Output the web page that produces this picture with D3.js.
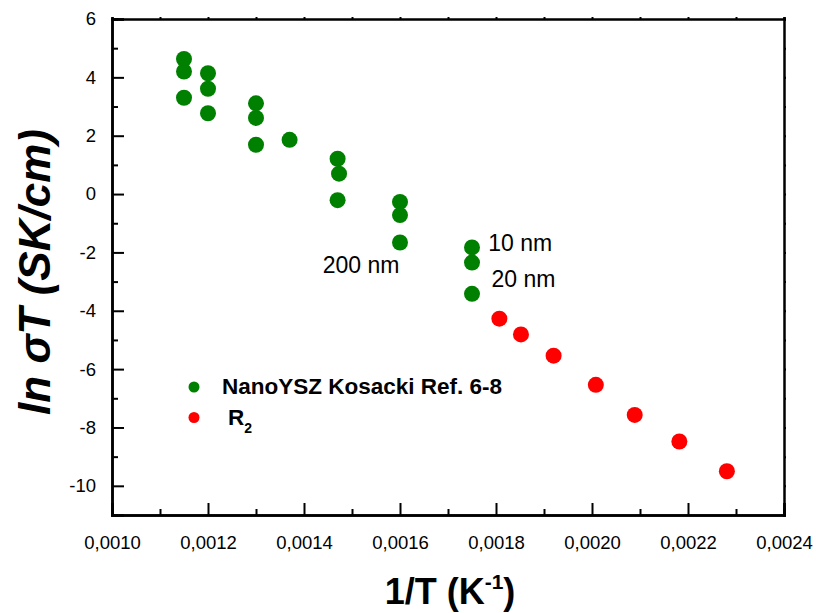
<!DOCTYPE html>
<html>
<head>
<meta charset="utf-8">
<script src="https://cdn.jsdelivr.net/npm/d3@7"></script>
<style>
  html, body { margin: 0; padding: 0; background: #fff; }
  svg { display: block; font-family: Arial, "Liberation Sans", sans-serif; }
</style>
</head>
<body>
<svg id="chart" width="816" height="613"></svg>
<script>
// Nano-YSZ conductivity (Kosacki, refs 6-8) versus this work (R2)
const nanoX = [0.00115, 0.00115, 0.00115, 0.0012, 0.0012, 0.0012, 0.0013, 0.0013, 0.0013,
               0.00137, 0.00147, 0.001473, 0.00147, 0.0016, 0.0016, 0.0016, 0.00175, 0.00175, 0.00175];
const nanoY = [4.63, 4.20, 3.30, 4.14, 3.61, 2.77, 3.11, 2.61, 1.69,
               1.86, 1.21, 0.70, -0.21, -0.27, -0.72, -1.66, -1.83, -2.35, -3.42];

const r2X = [0.001807, 0.001852, 0.00192, 0.002008, 0.002089, 0.002182, 0.002281];
const r2Y = [-4.27, -4.81, -5.54, -6.54, -7.57, -8.48, -9.50];

const xTicks = [0.0010, 0.0012, 0.0014, 0.0016, 0.0018, 0.0020, 0.0022, 0.0024];
const xMinorTicks = [0.0011, 0.0013, 0.0015, 0.0017, 0.0019, 0.0021, 0.0023];
const yTicks = [6, 4, 2, 0, -2, -4, -6, -8, -10];
const yMinorTicks = [5, 3, 1, -1, -3, -5, -7, -9];

const grainLabels = ["10 nm", "20 nm", "200 nm"];
const grainX = [0.001784, 0.0017905, 0.001439];
const grainY = [-1.95, -3.17, -2.69];

const legendNames = ["NanoYSZ Kosacki Ref. 6-8", "R"];
const legendColors = ["#008000", "#ff0000"];

const svg = d3.select("#chart");
const plot = { left: 112, right: 784, top: 19, bottom: 515 };

const x = d3.scaleLinear().domain([0.0010, 0.0024]).range([plot.left, plot.right]);
const y = d3.scaleLinear().domain([-11, 6]).range([plot.bottom, plot.top]);

const fmtX = d => d3.format(".4f")(d).replace(".", ",");
const fmtY = d => String(d);

function styleAxis(g) {
  g.select(".domain").attr("stroke", "#000").attr("stroke-width", 2.5);
  g.selectAll(".tick line").attr("stroke", "#000").attr("stroke-width", 2);
  g.selectAll(".tick text").attr("fill", "#000").attr("font-size", 18.5)
    .attr("font-family", "Arial, 'Liberation Sans', sans-serif");
}

// bottom axis: major ticks with labels, minor ticks, all pointing inward
svg.append("g").attr("transform", `translate(0,${plot.bottom})`)
  .call(d3.axisBottom(x).tickValues(xMinorTicks).tickSize(-6).tickFormat(""))
  .call(styleAxis);
svg.append("g").attr("transform", `translate(0,${plot.bottom})`)
  .call(d3.axisBottom(x).tickValues(xTicks).tickSize(-12).tickPadding(21).tickFormat(fmtX))
  .call(styleAxis);

// left axis
svg.append("g").attr("transform", `translate(${plot.left},0)`)
  .call(d3.axisLeft(y).tickValues(yMinorTicks).tickSize(-6).tickFormat(""))
  .call(styleAxis);
svg.append("g").attr("transform", `translate(${plot.left},0)`)
  .call(d3.axisLeft(y).tickValues(yTicks).tickSize(-12).tickPadding(16).tickFormat(fmtY))
  .call(styleAxis);

// top and right frame with small stub ticks
svg.append("g").attr("transform", `translate(0,${plot.top})`)
  .call(d3.axisTop(x).tickValues(xTicks.concat(xMinorTicks)).tickSize(2).tickFormat(""))
  .call(styleAxis);
svg.append("g").attr("transform", `translate(${plot.right},0)`)
  .call(d3.axisRight(y).tickValues(yTicks.concat(yMinorTicks)).tickSize(2).tickFormat(""))
  .call(styleAxis);

// data points
svg.append("g").selectAll("circle").data(d3.zip(nanoX, nanoY)).join("circle")
  .attr("cx", d => x(d[0])).attr("cy", d => y(d[1])).attr("r", 8)
  .attr("fill", legendColors[0]);
svg.append("g").selectAll("circle").data(d3.zip(r2X, r2Y)).join("circle")
  .attr("cx", d => x(d[0])).attr("cy", d => y(d[1])).attr("r", 8)
  .attr("fill", legendColors[1]);

// grain-size annotations
svg.append("g").selectAll("text").data(d3.zip(grainLabels, grainX, grainY)).join("text")
  .attr("x", d => x(d[1])).attr("y", d => y(d[2]))
  .attr("font-size", 23).attr("fill", "#000")
  .text(d => d[0]);

// legend
const legend = svg.append("g");
legend.selectAll("circle").data(legendColors).join("circle")
  .attr("cx", 194).attr("cy", (d, i) => 387 + i * 30.5).attr("r", 5.5)
  .attr("fill", d => d);
legend.append("text").attr("x", 222).attr("y", 394)
  .attr("font-size", 22.5).attr("font-weight", "bold").text(legendNames[0]);
const r2 = legend.append("text").attr("x", 228).attr("y", 424.5)
  .attr("font-size", 22.5).attr("font-weight", "bold");
r2.append("tspan").text(legendNames[1]);
r2.append("tspan").attr("font-size", 14).attr("dy", 8).text("2");

// axis titles
const xt = svg.append("text").attr("x", 450).attr("y", 604)
  .attr("text-anchor", "middle").attr("font-size", 36).attr("font-weight", "bold");
xt.append("tspan").text("1/T (K");
xt.append("tspan").attr("font-size", 21).attr("dy", -15).text("-1");
xt.append("tspan").attr("dy", 15).text(")");

svg.append("text")
  .attr("transform", `translate(50,272) rotate(-90)`)
  .attr("text-anchor", "middle").attr("font-size", 44)
  .attr("font-weight", "bold").attr("font-style", "italic")
  .text("ln σT (SK/cm)");
</script>
</body>
</html>
